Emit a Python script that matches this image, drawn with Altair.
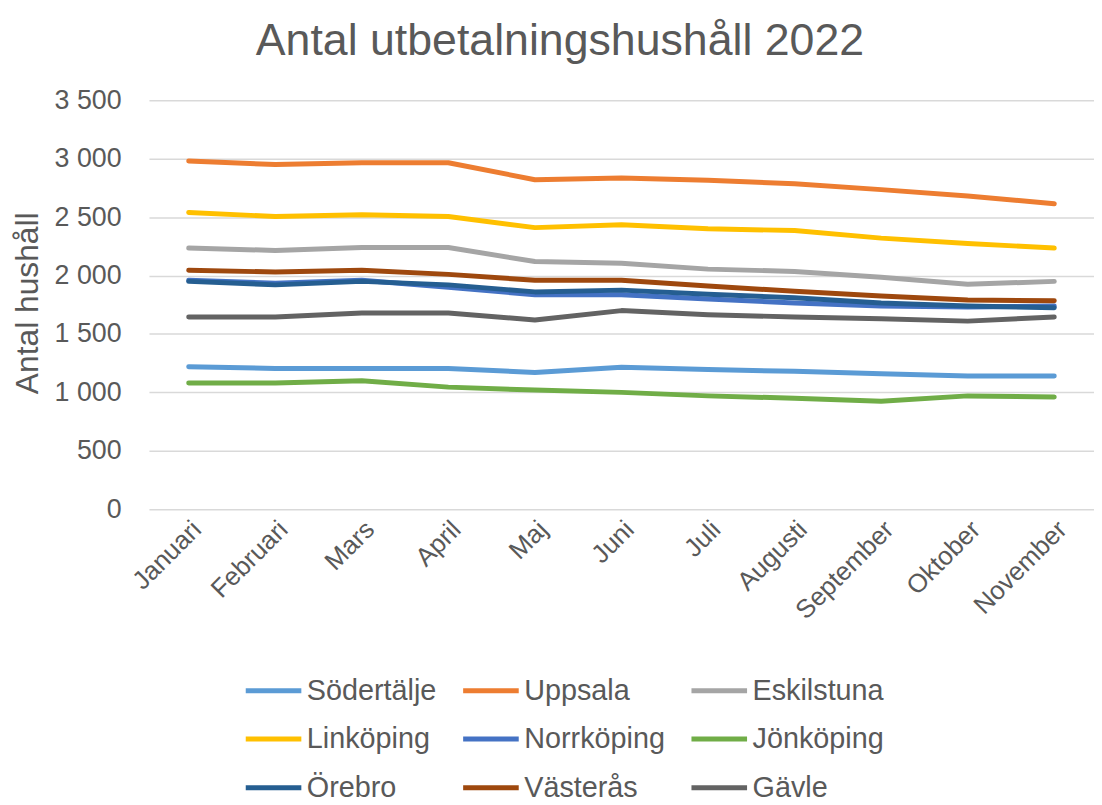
import altair as alt
import pandas as pd

months = ["Januari", "Februari", "Mars", "April", "Maj", "Juni", "Juli",
          "Augusti", "September", "Oktober", "November"]

cities = ["Södertälje", "Uppsala", "Eskilstuna", "Linköping", "Norrköping",
          "Jönköping", "Örebro", "Västerås", "Gävle"]

colors = ["#5B9BD5", "#ED7D31", "#A5A5A5", "#FFC000", "#4472C4",
          "#70AD47", "#255E91", "#9E480E", "#636363"]

sodertalje = [1220, 1205, 1205, 1205, 1170, 1215, 1195, 1180, 1160, 1140, 1140]
uppsala = [2980, 2950, 2965, 2965, 2820, 2835, 2815, 2785, 2735, 2680, 2615]
eskilstuna = [2235, 2215, 2240, 2240, 2120, 2105, 2055, 2035, 1985, 1925, 1950]
linkoping = [2540, 2505, 2520, 2505, 2410, 2435, 2400, 2385, 2320, 2275, 2235]
norrkoping = [1960, 1935, 1960, 1900, 1835, 1835, 1800, 1765, 1740, 1730, 1740]
jonkoping = [1080, 1080, 1100, 1045, 1020, 1000, 970, 950, 925, 970, 960]
orebro = [1950, 1920, 1950, 1920, 1860, 1875, 1840, 1810, 1765, 1740, 1725]
vasteras = [2045, 2030, 2045, 2010, 1960, 1960, 1910, 1865, 1825, 1790, 1785]
gavle = [1645, 1645, 1680, 1680, 1620, 1700, 1665, 1645, 1630, 1610, 1645]

y_ticks = [0, 500, 1000, 1500, 2000, 2500, 3000, 3500]

series = [sodertalje, uppsala, eskilstuna, linkoping, norrkoping,
          jonkoping, orebro, vasteras, gavle]

rows = []
for c, vals in zip(cities, series):
    for m, v in zip(months, vals):
        rows.append({"Stad": c, "Månad": m, "Antal": v})
df = pd.DataFrame(rows)

FONT = "Liberation Sans"
TXT = "#595959"

chart = alt.Chart(df).mark_line(
    strokeWidth=5, strokeCap="round", strokeJoin="round"
).encode(
    x=alt.X(
        "Månad:N",
        sort=months,
        scale=alt.Scale(type="point", padding=0.459),
        axis=alt.Axis(
            title=None, labelAngle=315, labelAlign="right", labelBaseline="middle",
            labelPadding=16, labelOffset=8, domain=False, ticks=False,
            labelFontSize=26, labelColor=TXT, labelFont=FONT, grid=False,
        ),
    ),
    y=alt.Y(
        "Antal:Q",
        scale=alt.Scale(domain=[0, 3500], nice=False),
        axis=alt.Axis(
            values=y_ticks,
            labelExpr="replace(format(datum.value, ','), ',', ' ')",
            title="Antal hushåll", titleFontSize=32, titleFont=FONT,
            titleFontWeight="normal", titleColor=TXT, titleAngle=270,
            titleX=-105, titleY=204, titleAlign="center", titleBaseline="bottom",
            labelFontSize=27, labelColor=TXT, labelFont=FONT, labelPadding=28,
            ticks=False, domain=False, grid=True, gridColor="#D9D9D9", gridWidth=1.5,
        ),
    ),
    color=alt.Color(
        "Stad:N",
        sort=cities,
        scale=alt.Scale(domain=cities, range=colors),
        legend=alt.Legend(
            title=None, orient="none", legendX=95, legendY=564, columns=3,
            direction="horizontal",
            symbolType="stroke", symbolSize=3136, symbolStrokeWidth=5,
            labelFontSize=29, labelColor=TXT, labelFont=FONT,
            columnPadding=16, rowPadding=3, labelOffset=3,
        ),
    ),
).properties(
    width=952,
    height=412,
    title=alt.TitleParams(
        text="Antal utbetalningshushåll 2022", fontSize=45, font=FONT,
        color=TXT, fontWeight="normal", anchor="middle", dx=-62, offset=23,
    ),
    autosize=alt.AutoSizeParams(type="none"),
    padding={"left": 142, "top": 90, "right": 0, "bottom": 295},
).configure_view(stroke=None)

chart.save("out.html", embed_options={"renderer": "svg", "actions": False})
